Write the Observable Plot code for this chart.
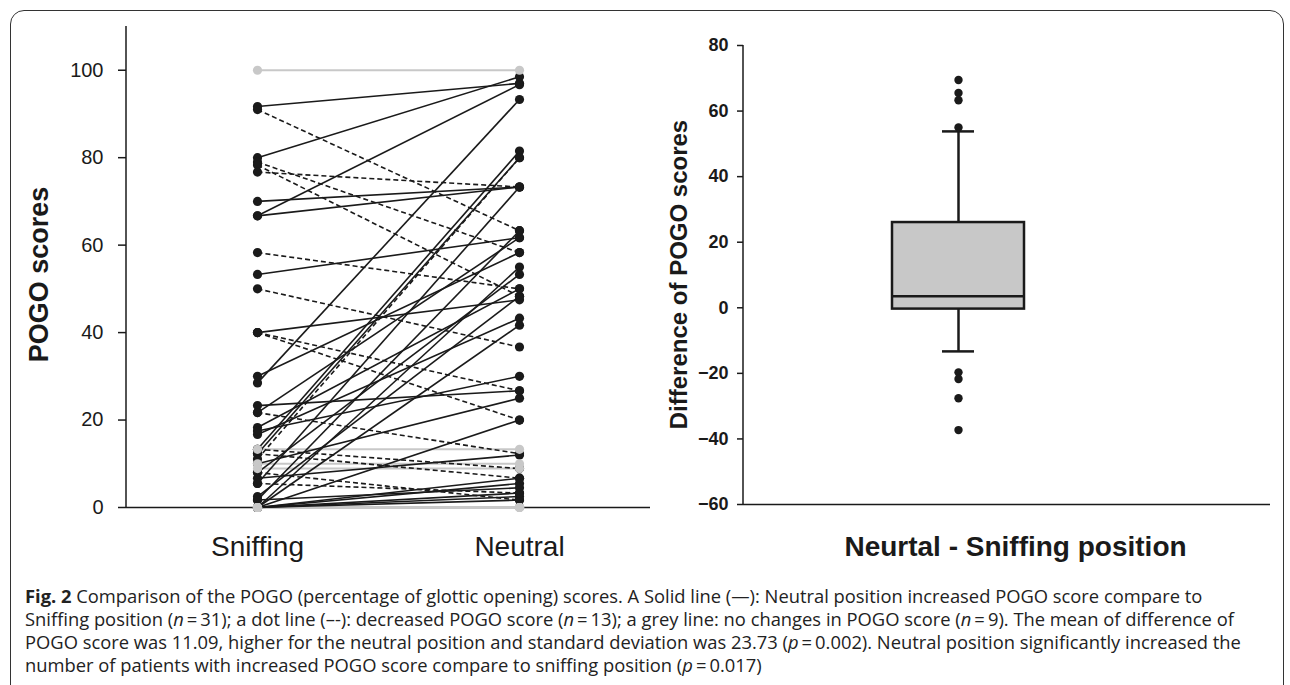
<!DOCTYPE html>
<html><head><meta charset="utf-8">
<script src="https://cdn.jsdelivr.net/npm/d3@7"></script>
<script src="https://cdn.jsdelivr.net/npm/@observablehq/plot@0.6"></script>
<style>
body{margin:0;background:#fff;}
#fig{position:relative;width:1290px;height:685px;overflow:hidden;font-family:"Liberation Sans",Arial,sans-serif;}
#border{position:absolute;left:10px;top:10px;width:1274px;height:720px;border:1.5px solid #333;border-radius:14px;box-sizing:border-box;}
#left{position:absolute;left:0;top:0;}
#right{position:absolute;left:640px;top:0;}
#caption{position:absolute;left:25px;top:584px;font-family:"Open Sans",sans-serif;font-size:15.5px;line-height:23px;color:#222;white-space:nowrap;}
#caption div{height:23px;}
</style></head>
<body>
<div id="fig">
  <div id="border"></div>
  <div id="left"></div>
  <div id="right"></div>
  <div id="caption">
    <div id="cap1"><b>Fig. 2</b> Comparison of the POGO (percentage of glottic opening) scores. A Solid line (—): Neutral position increased POGO score compare to</div>
    <div>Sniffing position (<i>n</i>&#8201;=&#8201;31); a dot line (–-): decreased POGO score (<i>n</i>&#8201;=&#8201;13); a grey line: no changes in POGO score (<i>n</i>&#8201;=&#8201;9). The mean of difference of</div>
    <div>POGO score was 11.09, higher for the neutral position and standard deviation was 23.73 (<i>p</i>&#8201;=&#8201;0.002). Neutral position significantly increased the</div>
    <div>number of patients with increased POGO score compare to sniffing position (<i>p</i>&#8201;=&#8201;0.017)</div>
  </div>
</div>
<script>
// ---- data ----
const positions = ["Sniffing", "Neutral"];
// one entry per patient: score in sniffing position, score in neutral position, line style as drawn
const sniffing = [
  // solid (increase)
  80, 91.7, 66.7, 28.5, 13.3, 12.3, 70, 66.7, 5.5, 1.7, 53.3, 30, 0, 8, 18.3, 40, 2.5, 16.7, 0, 17.5,
  23.3, 10, 0, 6.7, 0, 0, 1.7, 0, 0, 0, 21.7,
  // dashed (decrease)
  91, 79, 78.3, 76.7, 58.3, 50, 40, 40, 21.7, 13.3, 12.3, 8, 5.5, 11.1,
  // grey (no change)
  100, 13.3, 10, 8.9, 0, 0, 0, 0, 0
];
const neutral = [
  98.5, 97, 96.7, 93.3, 81.5, 80, 73.3, 73.3, 73.3, 63.3, 61.7, 58.3, 55, 53.3, 50, 47.5, 48.3, 43.3, 41.7, 30,
  26.7, 25, 20, 12, 6.7, 5.5, 4.5, 3.3, 2.5, 1.7, 61.7,
  63.3, 58.3, 48.3, 73.3, 50, 36.7, 26.7, 20, 12.3, 8.9, 6.7, 1.7, 3.3, 80,
  100, 13.3, 10, 8.9, 0, 0, 0, 0, 0
];
const lineStyle = [
  "up","up","up","up","up","up","up","up","up","up","up","up","up","up","up","up","up","up","up","up",
  "up","up","up","up","up","up","up","up","up","up","up",
  "down","down","down","down","down","down","down","down","down","down","down","down","down","down",
  "same","same","same","same","same","same","same","same","same"
];
const leftTicks = [0, 20, 40, 60, 80, 100];
const leftLabel = "POGO scores";

const boxCategory = "Neurtal - Sniffing position";
const diffTicks = [-60, -40, -20, 0, 20, 40, 60, 80];
const boxStats = {lo: -13.3, q1: -0.4, median: 3.5, q3: 26, hi: 53.8};
const outliers = [69.5, 65.5, 63.3, 55, -19.7, -21.7, -27.6, -37.3];
const rightLabel = "Difference of POGO scores";

// ---- left panel ----
const INK = "#1a1a1a", GREY = "#c8c8c8";
const pairs = sniffing.map((s, i) => ({a: positions[0], b: positions[1], s, n: neutral[i], c: lineStyle[i]}));
const ends = pairs.flatMap(d => [{p: d.a, v: d.s, c: d.c}, {p: d.b, v: d.n, c: d.c}]);

const left = Plot.plot({
  width: 660, height: 567,
  marginLeft: 126, marginRight: 10, marginTop: 26, marginBottom: 60,
  style: {fontFamily: "Liberation Sans, Arial, sans-serif", color: INK, background: "transparent", overflow: "visible"},
  x: {type: "point", domain: positions, padding: 0.5, label: null},
  y: {domain: [0, 110], label: null},
  marks: [
    Plot.axisY({ticks: leftTicks, tickSize: 8, tickPadding: 15, fontSize: 20, label: null, strokeWidth: 1.5}),
    Plot.axisX({tickSize: 0, tickPadding: 29, fontSize: 28, label: null}),
    Plot.ruleY([0], {stroke: INK, strokeWidth: 1.5}),
    Plot.link(pairs.filter(d => d.c === "same"), {x1: "a", x2: "b", y1: "s", y2: "n", stroke: GREY, strokeWidth: 2}),
    Plot.link(pairs.filter(d => d.c === "down"), {x1: "a", x2: "b", y1: "s", y2: "n", stroke: INK, strokeWidth: 1.6, strokeDasharray: "5,3"}),
    Plot.link(pairs.filter(d => d.c === "up"), {x1: "a", x2: "b", y1: "s", y2: "n", stroke: INK, strokeWidth: 1.6}),
    Plot.dot(ends.filter(d => d.c !== "same"), {x: "p", y: "v", r: 4.6, fill: INK}),
    Plot.dot(ends.filter(d => d.c === "same"), {x: "p", y: "v", r: 4.6, fill: GREY})
  ]
});
{
  const ys = left.scale("y");
  const svg = d3.select(left);
  svg.append("line").attr("x1", 126).attr("x2", 126)
    .attr("y1", ys.apply(110)).attr("y2", ys.apply(0))
    .attr("stroke", INK).attr("stroke-width", 1.5);
  svg.append("text").text(leftLabel)
    .attr("transform", `translate(39,${(ys.apply(110) + ys.apply(0)) / 2 + 8}) rotate(-90)`)
    .attr("text-anchor", "middle").attr("dominant-baseline", "central")
    .attr("font-size", 27).attr("font-weight", "bold").attr("fill", INK)
    .attr("font-family", "Liberation Sans, Arial, sans-serif");
}
document.getElementById("left").append(left);

// ---- right panel ----
const right = Plot.plot({
  width: 650, height: 564,
  marginLeft: 103, marginRight: 20, marginTop: 45, marginBottom: 60,
  style: {fontFamily: "Liberation Sans, Arial, sans-serif", color: INK, background: "transparent", overflow: "visible"},
  x: {type: "band", domain: [boxCategory], paddingInner: 0, paddingOuter: 1.496, align: 0.377, label: null},
  y: {domain: [-60, 80], label: null},
  marks: [
    Plot.axisY({ticks: diffTicks, tickSize: 6, tickPadding: 9, fontSize: 18, fontWeight: "bold", label: null, strokeWidth: 1.5}),
    Plot.axisX({tickSize: 0, tickPadding: 32, fontSize: 28, fontWeight: "bold", dx: 57, label: null}),
    Plot.ruleY([-60], {stroke: INK, strokeWidth: 1.5}),
    Plot.ruleX([boxStats], {x: () => boxCategory, y1: "lo", y2: "hi", stroke: INK, strokeWidth: 2.5}),
    Plot.tickY([boxStats.lo, boxStats.hi], {x: () => boxCategory, y: d => d, stroke: INK, strokeWidth: 2.5, insetLeft: 50, insetRight: 50}),
    Plot.barY([boxStats], {x: () => boxCategory, y1: "q1", y2: "q3", fill: GREY, stroke: INK, strokeWidth: 2.5}),
    Plot.tickY([boxStats], {x: () => boxCategory, y: "median", stroke: INK, strokeWidth: 2.5}),
    Plot.dot(outliers, {x: () => boxCategory, y: d => d, r: 4.2, fill: INK})
  ]
});
{
  const ys = right.scale("y");
  const svg = d3.select(right);
  svg.append("line").attr("x1", 103).attr("x2", 103)
    .attr("y1", ys.apply(80)).attr("y2", ys.apply(-60))
    .attr("stroke", INK).attr("stroke-width", 1.5);
  svg.append("text").text(rightLabel)
    .attr("transform", `translate(38,${(ys.apply(80) + ys.apply(-60)) / 2}) rotate(-90)`)
    .attr("text-anchor", "middle").attr("dominant-baseline", "central")
    .attr("font-size", 24).attr("font-weight", "bold").attr("fill", INK)
    .attr("font-family", "Liberation Sans, Arial, sans-serif");
}
document.getElementById("right").append(right);

// fit caption font so the first line spans the same width as in the figure
{
  const cap = document.getElementById("caption");
  const l1 = document.getElementById("cap1");
  const range = document.createRange();
  range.selectNodeContents(l1);
  const w = range.getBoundingClientRect().width;
  const target = 1178;
  cap.style.fontSize = (15.5 * target / w).toFixed(2) + "px";
}
</script>
</body></html>
